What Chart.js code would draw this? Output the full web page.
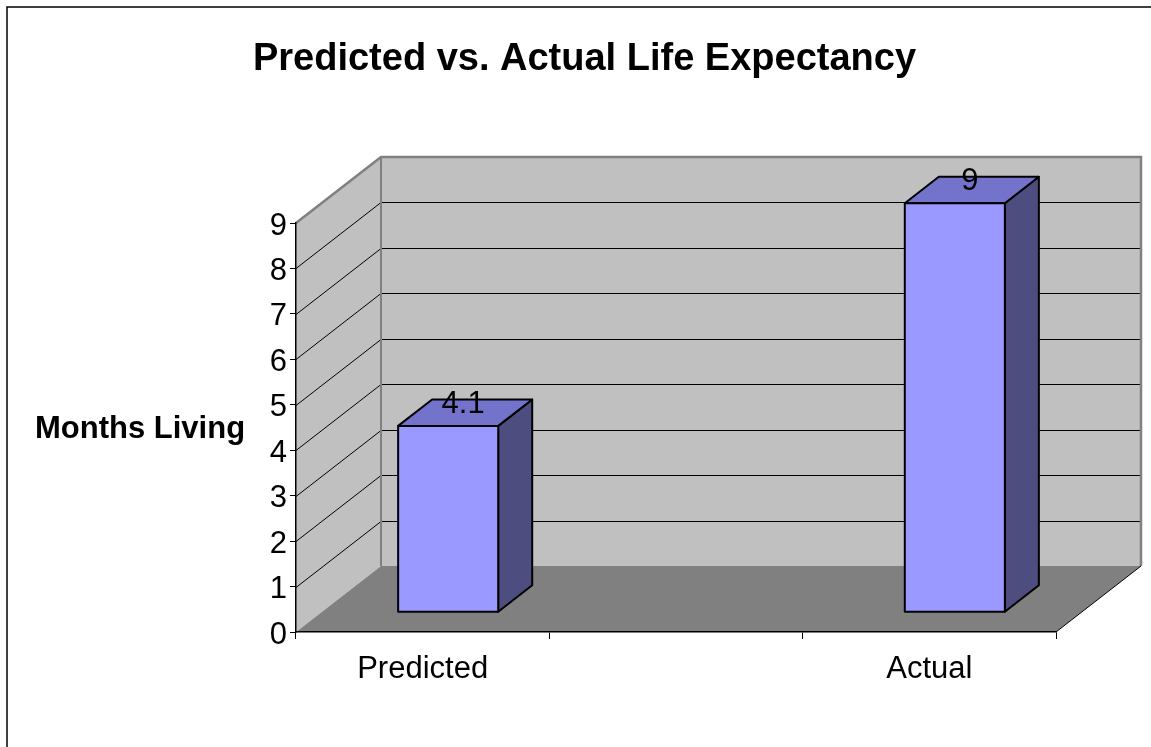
<!DOCTYPE html>
<html><head><meta charset="utf-8">
<script src="https://cdn.jsdelivr.net/npm/chart.js@4.4.0/dist/chart.umd.min.js"></script>
<style>html,body{margin:0;padding:0;background:#fff;overflow:hidden}</style>
</head><body>
<canvas id="c" width="1151" height="747"></canvas>
<script>
const categories = ["Predicted", "", "Actual"];
const monthsLiving = [4.1, null, 9];
const yTicks = [0, 1, 2, 3, 4, 5, 6, 7, 8, 9];
const titleText = "Predicted vs. Actual Life Expectancy";
const yAxisTitle = "Months Living";

const FONT = "'Liberation Sans', Arial, sans-serif";
const DX = 85, DY = -66, F0 = 0.3, F1 = 0.7;

function poly(ctx, pts, fill, stroke, lw) {
  ctx.beginPath();
  ctx.moveTo(pts[0][0], pts[0][1]);
  for (let i = 1; i < pts.length; i++) ctx.lineTo(pts[i][0], pts[i][1]);
  ctx.closePath();
  if (fill) { ctx.fillStyle = fill; ctx.fill(); }
  if (stroke) { ctx.strokeStyle = stroke; ctx.lineWidth = lw || 1; ctx.lineJoin = 'round'; ctx.stroke(); }
}
function line(ctx, pts, color, lw) {
  ctx.beginPath();
  ctx.moveTo(pts[0][0], pts[0][1]);
  for (let i = 1; i < pts.length; i++) ctx.lineTo(pts[i][0], pts[i][1]);
  ctx.strokeStyle = color; ctx.lineWidth = lw; ctx.stroke();
}

const threeD = {
  id: 'threeD',
  beforeDraw(chart) {
    const { ctx, chartArea: a, scales: { y } } = chart;
    const L = a.left, R = a.right;
    const B = y.getPixelForValue(0), T = y.getPixelForValue(y.max);
    ctx.save();
    // outer frame
    ctx.strokeStyle = '#000'; ctx.lineWidth = 1.5;
    ctx.strokeRect(7, 7, 1400, 1000);
    // title
    ctx.fillStyle = '#000';
    ctx.font = 'bold 38px ' + FONT;
    ctx.textAlign = 'center'; ctx.textBaseline = 'alphabetic';
    ctx.fillText(titleText, 584.5, 70);
    // back wall
    poly(ctx, [[L + DX, T + DY], [R + DX, T + DY], [R + DX, B + DY], [L + DX, B + DY]], '#c0c0c0');
    // side wall
    poly(ctx, [[L, B], [L, T], [L + DX, T + DY], [L + DX, B + DY]], '#c0c0c0');
    // floor
    poly(ctx, [[L, B], [R, B], [R + DX, B + DY], [L + DX, B + DY]], '#808080');
    // gridlines
    yTicks.forEach(v => {
      if (v <= 0 || v >= y.max) return;
      const py = Math.round(y.getPixelForValue(v)) + 0.5;
      line(ctx, [[L, py], [L + DX, py + DY], [R + DX, py + DY]], '#000', 1);
    });
    // wall edges
    line(ctx, [[L + DX, B + DY], [L + DX, T + DY]], '#808080', 2);
    line(ctx, [[L, T], [L + DX, T + DY], [R + DX, T + DY], [R + DX, B + DY]], '#808080', 2.5);
    // floor right edge
    line(ctx, [[R, B], [R + DX, B + DY]], '#000', 1);
    // y axis title
    ctx.fillStyle = '#000';
    ctx.font = 'bold 31px ' + FONT;
    ctx.textAlign = 'left'; ctx.textBaseline = 'alphabetic';
    ctx.fillText(yAxisTitle, 35, 438);
    ctx.restore();
  },
  afterDatasetsDraw(chart) {
    const { ctx } = chart;
    const meta = chart.getDatasetMeta(0);
    ctx.save();
    meta.data.forEach((el, i) => {
      const v = monthsLiving[i];
      if (v === null || v === undefined) return;
      const { x, y, base, width } = el.getProps(['x', 'y', 'base', 'width'], true);
      const x0 = x - width / 2 + F0 * DX, x1 = x + width / 2 + F0 * DX;
      const yt = y + F0 * DY, yb = base + F0 * DY;
      const ddx = (F1 - F0) * DX, ddy = (F1 - F0) * DY;
      // side
      poly(ctx, [[x1, yb], [x1, yt], [x1 + ddx, yt + ddy], [x1 + ddx, yb + ddy]], '#4d4d80', '#000', 2);
      // top
      poly(ctx, [[x0, yt], [x1, yt], [x1 + ddx, yt + ddy], [x0 + ddx, yt + ddy]], '#7373cc', '#000', 2);
      // front
      poly(ctx, [[x0, yt], [x1, yt], [x1, yb], [x0, yb]], '#9999ff', '#000', 2);
      // label
      ctx.fillStyle = '#000';
      ctx.font = '31px ' + FONT;
      ctx.textAlign = 'center'; ctx.textBaseline = 'alphabetic';
      const cx = x + (F0 + F1) / 2 * DX - 2, cy = y + (F0 + F1) / 2 * DY;
      ctx.fillText(String(v), cx, cy);
    });
    ctx.restore();
  }
};

Chart.defaults.font.family = FONT;
Chart.defaults.color = '#000';

new Chart(document.getElementById('c'), {
  type: 'bar',
  data: {
    labels: categories,
    datasets: [{
      data: monthsLiving,
      backgroundColor: 'rgba(0,0,0,0)',
      borderWidth: 0,
      barPercentage: 0.395,
      categoryPercentage: 1
    }]
  },
  options: {
    responsive: false,
    animation: false,
    layout: { padding: { left: 18, right: 95, top: 223, bottom: 0 } },
    plugins: {
      legend: { display: false },
      tooltip: { enabled: false },
      title: { display: false }
    },
    scales: {
      x: {
        grid: { display: true, drawOnChartArea: false, drawTicks: true, tickLength: 7, color: '#000', offset: true },
        border: { display: true, color: '#000', width: 1.5 },
        ticks: { font: { size: 31, family: FONT }, color: '#000', padding: 12, maxRotation: 0 },
        afterFit(s) { s.height = 115; }
      },
      y: {
        min: 0, max: 9,
        grid: { drawOnChartArea: false, drawTicks: true, tickLength: 6, color: '#000' },
        border: { display: true, color: '#000', width: 1.5 },
        ticks: { stepSize: 1, font: { size: 31, family: FONT }, color: '#000', padding: 3, labelOffset: 3 },
        afterFit(s) { s.width = 278; }
      }
    }
  },
  plugins: [threeD]
});
</script>
</body></html>
